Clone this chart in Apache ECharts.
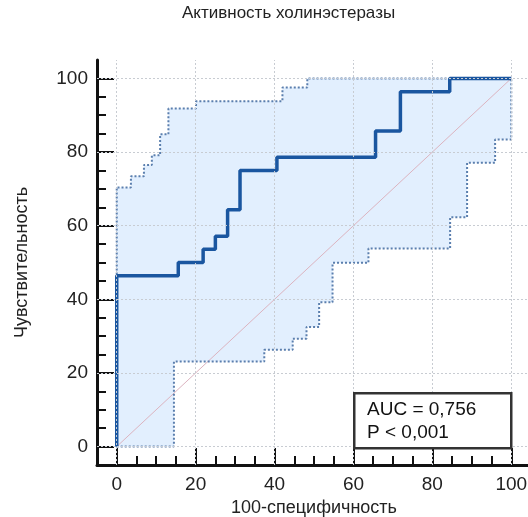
<!DOCTYPE html>
<html>
<head>
<meta charset="utf-8">
<script src="https://cdn.jsdelivr.net/npm/echarts@6/dist/echarts.min.js"></script>
<style>html,body{margin:0;padding:0;background:#fff;}#c{width:528px;height:517px;}</style>
</head>
<body>
<div id="c"></div>
<script>
// ---- data ----
const title = 'Активность холинэстеразы';
const xName = '100-специфичность';
const yName = 'Чувствительность';
const majorTicks = [0, 20, 40, 60, 80, 100];
const minorTicks = [5, 10, 15, 25, 30, 35, 45, 50, 55, 65, 70, 75, 85, 90, 95];
// ROC curve vertices (step turns at end)
const rocX = [0, 0, 15.6, 21.9, 25, 28.1, 31.25, 40.6, 65.6, 71.9, 84.4, 100];
const rocY = [0, 46.4, 50, 53.6, 57.1, 64.3, 75, 78.6, 85.7, 96.4, 100, 100];
// upper confidence bound
const upX = [0, 0, 3.6, 6.9, 8.9, 11.0, 13.1, 20.1, 42.0, 48.3, 100];
const upY = [0, 70.4, 73.4, 76.5, 79.1, 84.8, 91.8, 93.8, 97.5, 100, 100];
// lower confidence bound
const loX = [0, 14.5, 37.4, 44.6, 48.1, 51.3, 54.7, 63.8, 84.5, 88.8, 95.9, 100];
const loY = [0, 23.1, 26.3, 29.3, 32.5, 39.2, 49.9, 53.8, 62.3, 77.1, 83.4, 100];
const diagX = [0, 100];
const diagY = [0, 100];
const aucText = 'AUC = 0,756';
const pText = 'P < 0,001';

function pairs(xs, ys) { return xs.map((x, i) => [x, ys[i]]); }
function expandEnd(xs, ys) {
  const out = [[xs[0], ys[0]]];
  for (let i = 1; i < xs.length; i++) {
    out.push([xs[i], ys[i - 1]]);
    out.push([xs[i], ys[i]]);
  }
  return out;
}

const FONT = 'Liberation Sans, Arial, sans-serif';
const chart = echarts.init(document.getElementById('c'), null, {renderer: 'canvas'});

function mkAxis(isX, main) {
  const ax = {
    type: 'value', min: -5, max: 105,
    position: isX ? 'bottom' : 'left',
    axisLine: {show: main, onZero: false, lineStyle: {color: '#111', width: 3}},
    axisTick: {show: true, inside: true, customValues: main ? majorTicks : minorTicks,
      length: main ? 17 : 9, lineStyle: {color: '#111', width: 2}},
    axisLabel: {show: main, customValues: majorTicks, color: '#222', fontSize: 19, fontFamily: FONT, margin: isX ? 10 : 9},
    splitLine: {show: false},
    minorTick: {show: false}
  };
  if (main) {
    ax.name = isX ? xName : yName;
    ax.nameLocation = 'middle';
    ax.nameGap = isX ? 33 : 66;
    ax.nameTextStyle = {color: '#222', fontSize: 18, fontFamily: FONT};
  }
  return ax;
}

const gridStyle = {color: '#c8ccd2', width: 1, type: [2, 2]};
const gridLines = majorTicks.map(v => ({xAxis: v})).concat(majorTicks.map(v => ({yAxis: v})));

chart.setOption({
  animation: false,
  backgroundColor: '#fff',
  title: {text: title, left: 182, top: 5, padding: 0,
    textStyle: {color: '#222', fontSize: 17, fontWeight: 'normal', fontFamily: FONT}},
  grid: {left: 97, top: 60, width: 434, height: 405, containLabel: false, outerBoundsMode: 'none'},
  xAxis: [mkAxis(true, true), mkAxis(true, false)],
  yAxis: [mkAxis(false, true), mkAxis(false, false)],
  series: [
    {
      type: 'line', data: [], z: 0, silent: true,
      markLine: {silent: true, symbol: ['none', 'none'], label: {show: false},
        lineStyle: gridStyle, emphasis: {disabled: true}, data: gridLines}
    },
    {
      type: 'custom', xAxisIndex: 0, yAxisIndex: 0, silent: true, z: 1,
      data: [[0, 0]],
      renderItem: function (params, api) {
        const up = expandEnd(upX, upY);
        const lo = expandEnd(loX, loY).reverse();
        const pts = up.concat(lo).map(p => api.coord(p));
        return {type: 'polygon', shape: {points: pts},
          style: {fill: 'rgba(190,220,252,0.45)', stroke: null}};
      }
    },
    {
      type: 'line', data: pairs(diagX, diagY), showSymbol: false, z: 2,
      lineStyle: {color: '#dcb4c0', width: 1}
    },
    {
      type: 'line', data: pairs(upX, upY), step: 'end', showSymbol: false, z: 3,
      lineStyle: {color: '#5b7fae', width: 2, type: [2, 2]}
    },
    {
      type: 'line', data: pairs(loX, loY), step: 'end', showSymbol: false, z: 3,
      lineStyle: {color: '#5b7fae', width: 2, type: [2, 2]}
    },
    {
      type: 'line', data: pairs(rocX, rocY), step: 'end', showSymbol: false, z: 4,
      lineStyle: {color: '#1a56a0', width: 3.5}
    }
  ],
  graphic: [
    {type: 'rect', left: 353, top: 392, shape: {width: 157, height: 55},
      style: {fill: '#fff', stroke: '#333', lineWidth: 2.5}, z: 100},
    {type: 'text', left: 367, top: 400, z: 101,
      style: {text: aucText, fill: '#111', font: '19px ' + FONT}},
    {type: 'text', left: 367, top: 423, z: 101,
      style: {text: pText, fill: '#111', font: '19px ' + FONT}}
  ]
});
</script>
</body>
</html>
